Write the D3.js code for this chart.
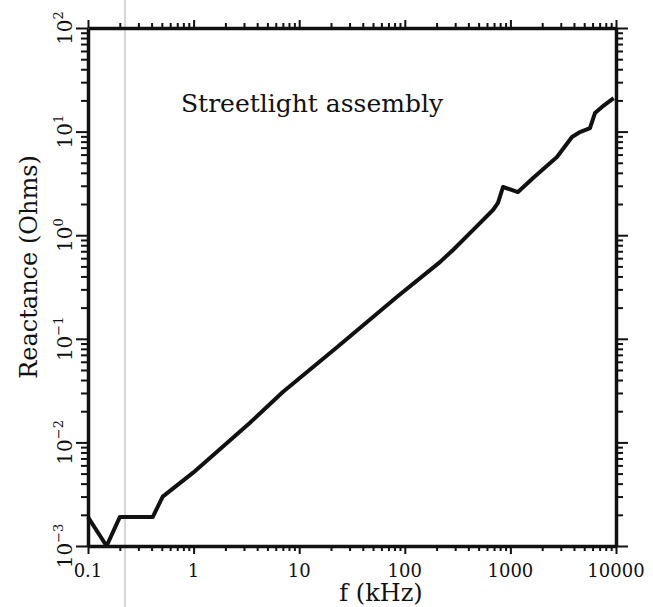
<!DOCTYPE html>
<html>
<head>
<meta charset="utf-8">
<script src="https://cdn.jsdelivr.net/npm/d3@7.9.0/dist/d3.min.js"></script>
<style>
  body { margin: 0; background: #fff; }
  svg { display: block; }
  text { font-family: "DejaVu Serif", serif; fill: #111; }
</style>
</head>
<body>
<div id="chart"></div>
<script>
// values (f in kHz, reactance in ohms)
const freqKHz = [0.1, 0.15, 0.2, 0.41, 0.51, 0.99, 3.4, 7.0, 22.8, 84, 215, 286, 442, 684, 763, 851, 1180, 1640, 2760, 3830, 4560, 5670, 6320, 7370, 9500];
const reactanceOhms = [0.0019, 0.001, 0.0019, 0.0019, 0.003, 0.0051, 0.0154, 0.0306, 0.083, 0.253, 0.55, 0.72, 1.12, 1.75, 2.05, 2.92, 2.61, 3.57, 5.69, 8.87, 9.9, 10.8, 15.1, 17.3, 21];

const xTickLabels = ["0.1", "1", "10", "100", "1000", "10000"];
const xTickValues = [0.1, 1, 10, 100, 1000, 10000];
const yTickExponents = [-3, -2, -1, 0, 1, 2];

const title = "Streetlight assembly";
const xTitle = "f (kHz)";
const yTitle = "Reactance (Ohms)";

const data = freqKHz.map((f, i) => ({ f, r: reactanceOhms[i] }));

const width = 653, height = 607;
const plot = { left: 88, right: 616, top: 28, bottom: 546 };

const svg = d3.select("#chart").append("svg")
    .attr("width", width)
    .attr("height", height);

const x = d3.scaleLog().domain([0.1, 10000]).range([plot.left, plot.right]);
const y = d3.scaleLog().domain([1e-3, 1e2]).range([plot.bottom, plot.top]);

// all 1..9 ticks inside each decade
function logTicks(lo, hi) {
    const out = [];
    for (let e = lo; e <= hi; e++) {
        for (let m = 1; m <= 9; m++) {
            const v = m * Math.pow(10, e);
            if (e === hi && m > 1) break;
            out.push(v);
        }
    }
    return out;
}
const isMajor = v => Math.abs(Math.log10(v) - Math.round(Math.log10(v))) < 1e-9;

const xTicks = logTicks(-1, 4);
const yTicks = logTicks(-3, 2);

// faint scanner line
svg.append("line")
    .attr("x1", 125).attr("x2", 125)
    .attr("y1", 0).attr("y2", height)
    .attr("stroke", "#bdbdbd")
    .attr("stroke-width", 1.2);

function styleAxis(g, majorLen, minorLen, dir) {
    g.select(".domain").attr("stroke", "#111").attr("stroke-width", 3.5);
    g.selectAll(".tick line")
        .attr("stroke", "#111")
        .attr("stroke-width", 2)
        .attr(dir, d => (isMajor(d) ? majorLen : minorLen));
}

svg.append("g")
    .attr("transform", `translate(0,${plot.bottom})`)
    .call(d3.axisBottom(x).tickValues(xTicks).tickFormat("").tickSizeOuter(0))
    .call(g => styleAxis(g, 8, 5, "y2"));

svg.append("g")
    .attr("transform", `translate(0,${plot.top})`)
    .call(d3.axisTop(x).tickValues(xTicks).tickFormat("").tickSizeOuter(0))
    .call(g => styleAxis(g, -8, -5, "y2"));

svg.append("g")
    .attr("transform", `translate(${plot.left},0)`)
    .call(d3.axisLeft(y).tickValues(yTicks).tickFormat("").tickSizeOuter(0))
    .call(g => styleAxis(g, -12, -7, "x2"));

svg.append("g")
    .attr("transform", `translate(${plot.right},0)`)
    .call(d3.axisRight(y).tickValues(yTicks).tickFormat("").tickSizeOuter(0))
    .call(g => styleAxis(g, 12, 7, "x2"));

// the curve
svg.append("path")
    .datum(data)
    .attr("fill", "none")
    .attr("stroke", "#111")
    .attr("stroke-width", 4)
    .attr("stroke-linejoin", "round")
    .attr("d", d3.line().x(d => x(d.f)).y(d => y(d.r)));

// x tick labels
svg.append("g").selectAll("text")
    .data(xTickValues)
    .join("text")
    .attr("x", d => x(d))
    .attr("y", 577)
    .attr("text-anchor", "middle")
    .style("font-size", "18px")
    .text((d, i) => xTickLabels[i]);

// y tick labels, rotated, 10 with superscript exponent
svg.append("g").selectAll("text")
    .data(yTickExponents)
    .join("text")
    .attr("transform", d => `translate(72,${y(Math.pow(10, d))}) rotate(-90)`)
    .attr("text-anchor", "middle")
    .style("font-size", "20px")
    .each(function (d) {
        const t = d3.select(this);
        t.append("tspan").text("10");
        t.append("tspan")
            .attr("dy", -9)
            .style("font-size", "13px")
            .text(d < 0 ? "\u2212" + (-d) : String(d));
    });

// titles
svg.append("text")
    .attr("x", 312)
    .attr("y", 112)
    .attr("text-anchor", "middle")
    .style("font-size", "25px")
    .text(title);

svg.append("text")
    .attr("x", 381)
    .attr("y", 601)
    .attr("text-anchor", "middle")
    .style("font-size", "24px")
    .text(xTitle);

svg.append("text")
    .attr("transform", "translate(37,267) rotate(-90)")
    .attr("text-anchor", "middle")
    .style("font-size", "24px")
    .text(yTitle);
</script>
</body>
</html>
